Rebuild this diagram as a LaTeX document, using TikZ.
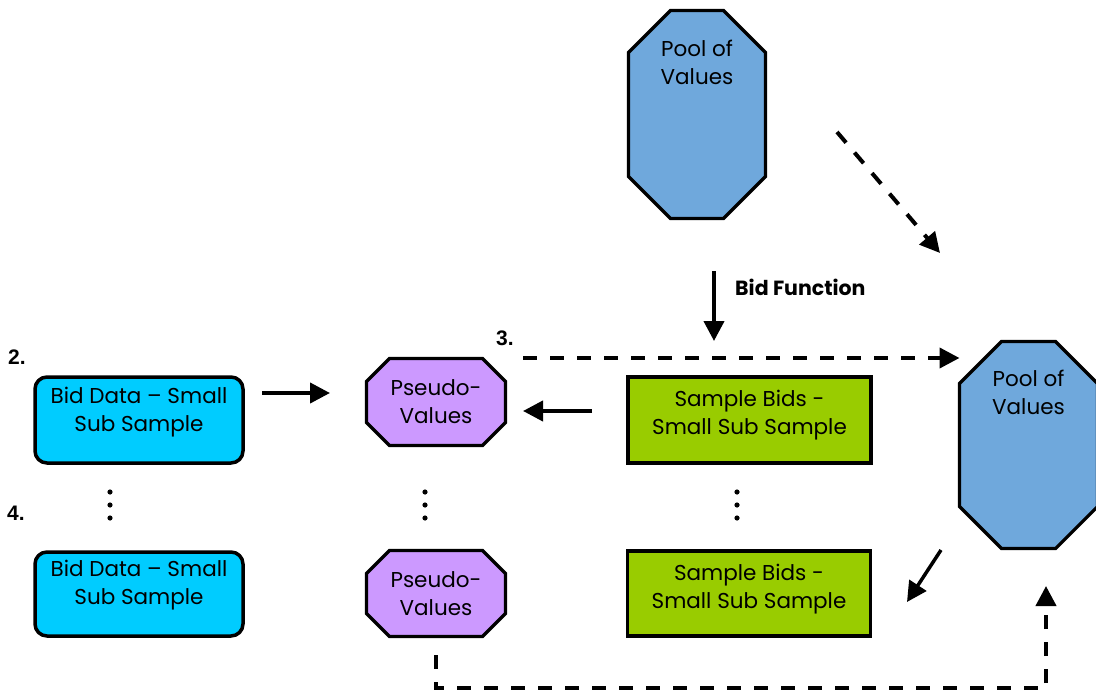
\documentclass[tikz,border=0pt]{standalone}
\usepackage{fontspec}
\setmainfont{Poppins}
\newfontfamily\lblfont{Liberation Sans}
\usetikzlibrary{arrows.meta,calc,backgrounds}
\definecolor{cyanbox}{HTML}{00CCFF}
\definecolor{poolblue}{HTML}{6FA8DC}
\definecolor{pseudopurple}{HTML}{CC99FF}
\definecolor{greenbox}{HTML}{99CC00}
\newcommand{\drawocto}[3]{%
  \begin{pgfonlayer}{background}
  \draw[line width=3.2pt, line join=miter, fill=#3]
    ($(#1.north west)+(#2,0)$) -- ($(#1.north east)+(-#2,0)$) --
    ($(#1.north east)+(0,#2)$) -- ($(#1.south east)+(0,-#2)$) --
    ($(#1.south east)+(-#2,0)$) -- ($(#1.south west)+(#2,0)$) --
    ($(#1.south west)+(0,-#2)$) -- ($(#1.north west)+(0,#2)$) -- cycle;
  \end{pgfonlayer}}
\begin{document}
\begin{tikzpicture}[x=1pt,y=-1pt,
  txt/.style={font=\fontsize{21.5}{28}\selectfont, align=center, text=black, inner sep=0pt},
  numlbl/.style={font=\lblfont\bfseries\fontsize{21}{24}\selectfont, inner sep=0pt},
  bidlbl/.style={font=\bfseries\fontsize{20.5}{24}\selectfont, inner sep=0pt, anchor=west},
  octshape/.style={rectangle, draw=none, inner sep=0pt, outer sep=0pt},
  bidbox/.style={rectangle, rounded corners=12pt, draw, line width=3.5pt, fill=cyanbox,
    inner sep=0pt, minimum width=208pt},
  greenrect/.style={rectangle, draw, line width=3.5pt, fill=greenbox, inner sep=0pt,
    minimum width=243pt},
  arr/.style={line width=4pt, -{Triangle[length=20pt,width=20pt]}},
  darr/.style={arr, dash pattern=on 14pt off 13pt}
]
\useasboundingbox (0,0) rectangle (1096,693);

% shapes
\node[octshape, minimum width=137pt, minimum height=208pt] (pool1) at (697,114.5) {};
\node[octshape, minimum width=138pt, minimum height=207pt] (pool2) at (1028.5,445) {};
\node[octshape, minimum width=139pt, minimum height=87pt] (pseudo1) at (436,402) {};
\node[octshape, minimum width=139pt, minimum height=86pt] (pseudo2) at (436,593.5) {};
\drawocto{pool1}{42}{poolblue}
\drawocto{pool2}{42}{poolblue}
\drawocto{pseudo1}{23}{pseudopurple}
\drawocto{pseudo2}{23}{pseudopurple}

\node[bidbox, minimum height=86pt] (bid1) at (139,420) {};
\node[bidbox, minimum height=84pt] (bid2) at (139,594) {};
\node[greenrect, minimum height=86pt] (green1) at (749.5,420) {};
\node[greenrect, minimum height=85pt] (green2) at (749,593.5) {};

% texts
\node[txt] (pool1t) at (697,62) {Pool of\\Values};
\node[txt] (pool2t) at (1028.5,392.5) {Pool of\\Values};
\node[txt] (pseudo1t) at (436,402) {Pseudo-\\Values};
\node[txt] (pseudo2t) at (436,594) {Pseudo-\\Values};
\node[txt] (bid1t) at (139,412.5) {Bid Data – Small\\Sub Sample};
\node[txt] (bid2t) at (139,585.5) {Bid Data – Small\\Sub Sample};
\node[txt] (green1t) at (749.5,415) {Sample Bids -\\Small Sub Sample};
\node[txt] (green2t) at (749,589.5) {Sample Bids -\\Small Sub Sample};

\node[numlbl] (n2) at (17,357) {2.};
\node[numlbl] (n3) at (505,338) {3.};
\node[numlbl] (n4) at (16,513) {4.};
\node[bidlbl] (bidf) at (735,287) {Bid Function};

% dots
\foreach \x in {110,425,737}
  \foreach \y in {492,505,518}
    \fill (\x,\y) circle (2.6pt);

% connector end points
\coordinate (a1s) at (262,393);  \coordinate (a1e) at (330,393);
\coordinate (a2s) at (592,411);  \coordinate (a2e) at (523,411);
\coordinate (a3s) at (714,271);  \coordinate (a3e) at (714,341);
\coordinate (d1s) at (523,358);
\coordinate (d2s) at (837,132);  \coordinate (d2e) at (940,253);
\coordinate (a4s) at (941,550);  \coordinate (a4e) at (907,602);
\coordinate (d3s) at (436,655);  \coordinate (d3e) at (1046,586);

\draw[arr] (a1s) -- (a1e);
\draw[arr] (a2s) -- (a2e);
\draw[arr] (a3s) -- (a3e);
\draw[darr] (d1s) -- (d1s -| pool2.west);
\draw[darr] (d2s) -- (d2e);
\draw[arr, line width=3.5pt] (a4s) -- (a4e);
\draw[darr] (d3s) -- (436,688) -- (1046,688) -- (d3e);
\end{tikzpicture}
\end{document}
